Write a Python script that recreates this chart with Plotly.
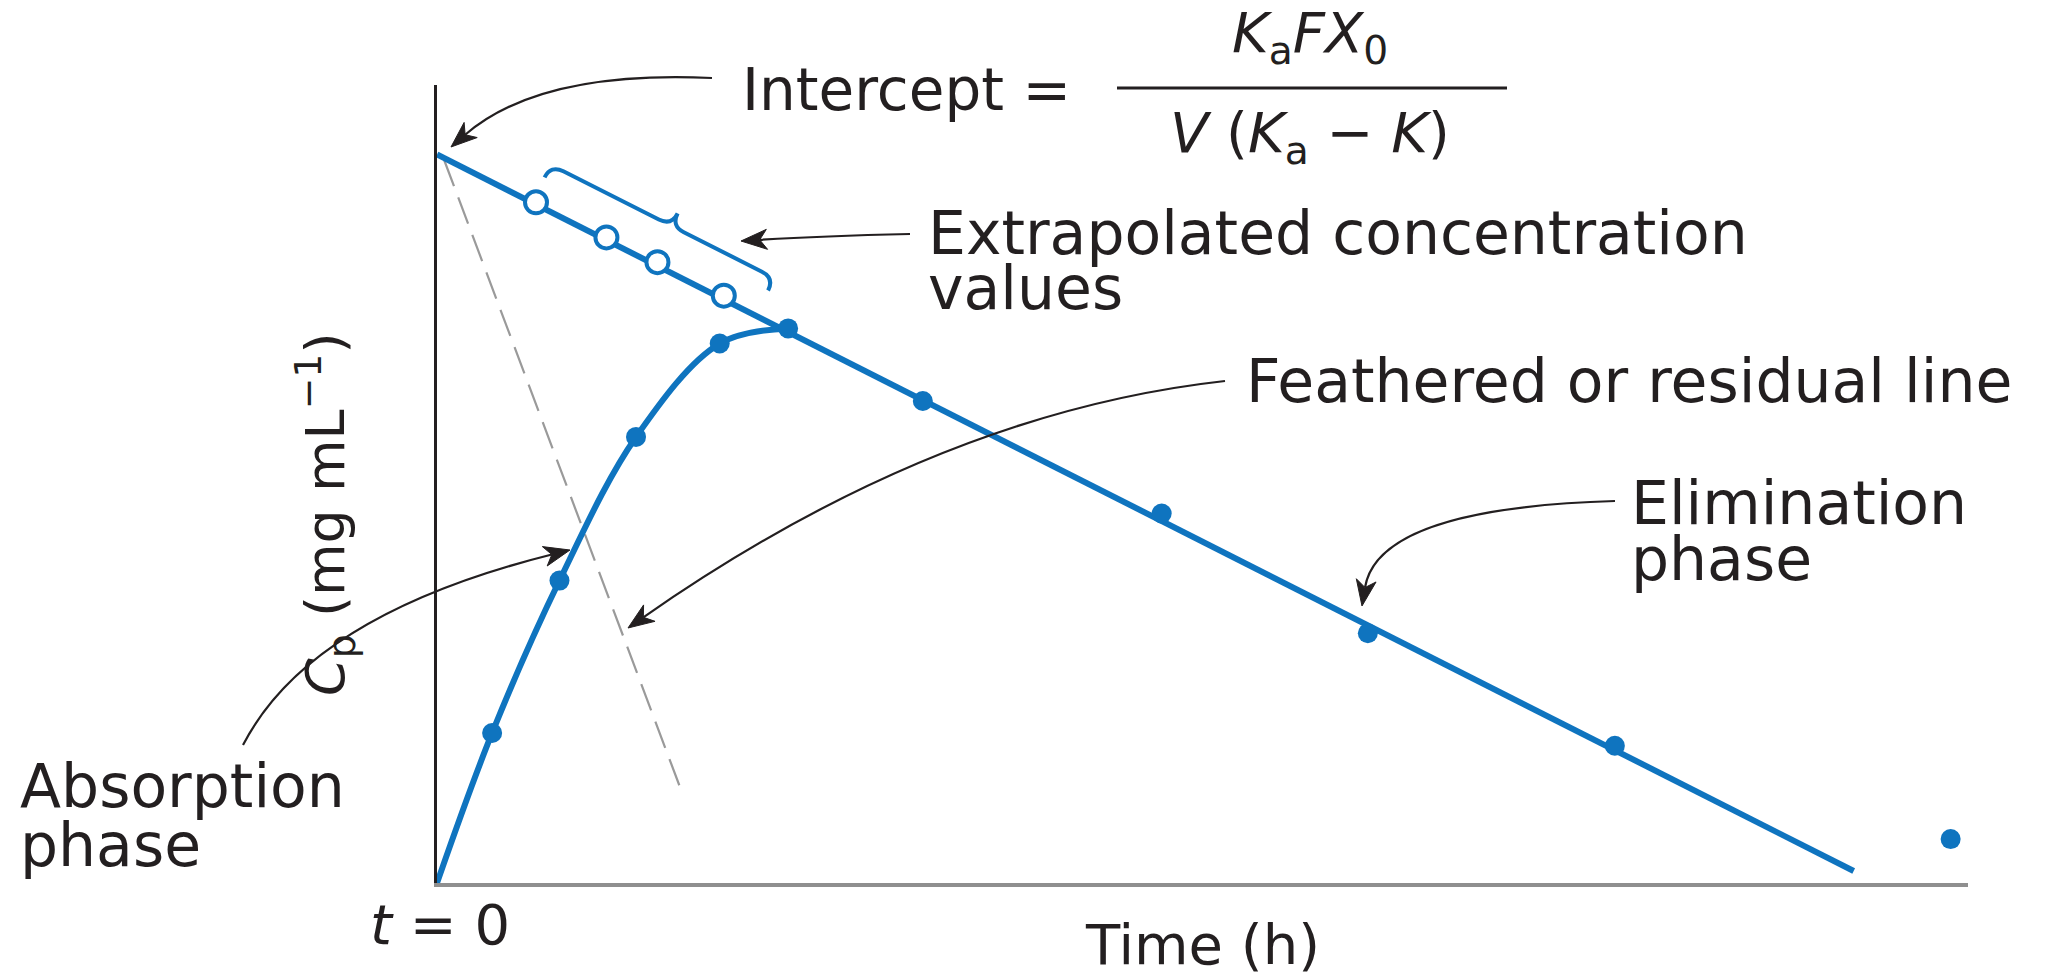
import math
import plotly.graph_objects as go

# ---------------- data (arbitrary units) ----------------
absorb_curve_t = [0.0, 0.54, 1.20, 1.95, 2.77, 3.44]
absorb_curve_c = [0.0, 1.88, 3.79, 5.59, 6.76, 6.95]
absorb_dot_t = [0.54, 1.20, 1.95, 2.77]
absorb_dot_c = [1.88, 3.79, 5.59, 6.76]
elim_dot_t = [3.44, 4.76, 7.10, 9.12, 11.54, 14.83]
elim_dot_c = [6.95, 6.04, 4.63, 3.13, 1.72, 0.55]
extrap_t = [0.97, 1.66, 2.16, 2.81]
extrap_c = [8.53, 8.09, 7.78, 7.36]
elim_line_t = [0.0, 13.88]
elim_line_c = [9.13, 0.15]
resid_line_t = [0.07, 2.39]
resid_line_c = [9.06, 1.17]
brace_t = [0.93, 2.11, 3.12]   # start, tip, end of the brace along the line

X_MAX, Y_MAX = 15.0, 10.0

# ---------------- layout geometry ----------------
W, H = 2068, 976
L, R, T, B = 437, 100, 85, 93
PW, PH = W - L - R, H - T - B
FONT = "DejaVu Sans"
INK = "#231f20"
BLUE = "#0f74bf"
FS = 60


def d2px(t, c):
    return L + t / X_MAX * PW, H - B - c / Y_MAX * PH


def px2p(px, py):
    return (px - L) / PW, (H - B - py) / PH


def pstr(px, py):
    x, y = px2p(px, py)
    return f"{x:.5f},{y:.5f}"


fig = go.Figure()

# residual (feathered) dashed line
fig.add_trace(go.Scatter(x=resid_line_t, y=resid_line_c, mode="lines",
                         line=dict(color="#9a9a9a", width=2.2, dash="28px,12px"),
                         hoverinfo="skip"))
# elimination line
fig.add_trace(go.Scatter(x=elim_line_t, y=elim_line_c, mode="lines",
                         line=dict(color=BLUE, width=6), hoverinfo="skip"))
# absorption curve
fig.add_trace(go.Scatter(x=absorb_curve_t, y=absorb_curve_c, mode="lines",
                         line=dict(color=BLUE, width=6, shape="spline", smoothing=1.0),
                         hoverinfo="skip"))
# extrapolated (open) points
fig.add_trace(go.Scatter(x=extrap_t, y=extrap_c, mode="markers",
                         marker=dict(symbol="circle", size=22, color="white",
                                     line=dict(color=BLUE, width=4)),
                         cliponaxis=False))
# observed points
fig.add_trace(go.Scatter(x=absorb_dot_t + elim_dot_t, y=absorb_dot_c + elim_dot_c,
                         mode="markers", marker=dict(size=20, color=BLUE),
                         cliponaxis=False))

shapes = []
annotations = []

# ---------------- brace parallel to the elimination line ----------------
p0 = d2px(elim_line_t[0], elim_line_c[0])
p1 = d2px(elim_line_t[1], elim_line_c[1])
ll = math.hypot(p1[0] - p0[0], p1[1] - p0[1])
ux, uy = (p1[0] - p0[0]) / ll, (p1[1] - p0[1]) / ll
nx, ny = uy, -ux


def s_of_t(t):
    q = d2px(t, elim_line_c[0] + (elim_line_c[1] - elim_line_c[0]) * t / elim_line_t[1])
    return math.hypot(q[0] - p0[0], q[1] - p0[1])


def bp(s, d):
    return pstr(p0[0] + s * ux + d * nx, p0[1] + s * uy + d * ny)


s0, st, s1 = (s_of_t(v) for v in brace_t)
path = (f"M {bp(s0, 28)} Q {bp(s0, 42)} {bp(s0 + 14, 42)} L {bp(st - 14, 42)} "
        f"Q {bp(st, 42)} {bp(st, 56)} Q {bp(st, 42)} {bp(st + 14, 42)} "
        f"L {bp(s1 - 14, 42)} Q {bp(s1, 42)} {bp(s1, 28)}")
shapes.append(dict(type="path", path=path, xref="paper", yref="paper",
                   line=dict(color=BLUE, width=4)))

# fraction bar
bx0, by0 = px2p(1117, 88)
bx1, _ = px2p(1507, 88)
shapes.append(dict(type="line", xref="paper", yref="paper", x0=bx0, y0=by0, x1=bx1, y1=by0,
                   line=dict(color=INK, width=3)))


# ---------------- curved pointer arrows (path + filled barbed head) ----------------
def curved_arrow(start, ctrl, tip, hlen=26, hw=10):
    dx, dy = tip[0] - ctrl[0], tip[1] - ctrl[1]
    n = math.hypot(dx, dy)
    ex, ey = dx / n, dy / n
    qx, qy = -ey, ex
    neck = (tip[0] - ex * hlen * 0.72, tip[1] - ey * hlen * 0.72)
    shapes.append(dict(type="path", xref="paper", yref="paper",
                       path=f"M {pstr(*start)} Q {pstr(*ctrl)} {pstr(*neck)}",
                       line=dict(color=INK, width=2.2)))
    b1 = (tip[0] - ex * hlen + qx * hw, tip[1] - ey * hlen + qy * hw)
    b2 = (tip[0] - ex * hlen - qx * hw, tip[1] - ey * hlen - qy * hw)
    shapes.append(dict(type="path", xref="paper", yref="paper",
                       path=f"M {pstr(*tip)} L {pstr(*b1)} L {pstr(*neck)} L {pstr(*b2)} Z",
                       fillcolor=INK, line=dict(color=INK, width=1)))


curved_arrow((712, 78), (540, 70), (451, 147))        # intercept
curved_arrow((910, 234), (820, 236), (741, 241))      # extrapolated values
curved_arrow((1225, 381), (936, 413), (628, 628))     # feathered line
curved_arrow((1615, 501), (1378, 508), (1362, 606))   # elimination phase
curved_arrow((243, 745), (310, 615), (570, 550))      # absorption phase


# ---------------- text ----------------
def txt(s, px, py, size=FS, xanchor="left", angle=0):
    x, y = px2p(px, py)
    annotations.append(dict(text=s, x=x, y=y, xref="paper", yref="paper",
                            xanchor=xanchor, yanchor="middle", showarrow=False,
                            textangle=angle, font=dict(family=FONT, size=size, color=INK)))


txt("Intercept =", 740, 90, size=58)
txt("<i>K</i><sub>a</sub><i>FX</i><sub>0</sub>", 1310, 36, size=56, xanchor="center")
txt("<i>V</i> (<i>K</i><sub>a</sub> − <i>K</i>)", 1310, 136, size=56, xanchor="center")
txt("Extrapolated concentration", 926, 233)
txt("values", 926, 288)
txt("Feathered or residual line", 1244, 381)
txt("Elimination", 1629, 503)
txt("phase", 1629, 559)
txt("Absorption", 18, 786)
txt("phase", 18, 845)
txt("<i>t</i> = 0", 440, 924, size=56, xanchor="center")
txt("Time (h)", 1202, 944, size=56, xanchor="center")
txt("<i>C</i><sub>p</sub> (mg mL<sup>−1</sup>)", 325, 515, size=54, xanchor="center", angle=-90)

fig.update_layout(
    width=W, height=H,
    margin=dict(l=L, r=R, t=T, b=B, pad=0),
    paper_bgcolor="white", plot_bgcolor="white",
    showlegend=False,
    shapes=shapes, annotations=annotations,
    xaxis=dict(range=[0, X_MAX], showgrid=False, zeroline=False, showticklabels=False,
               ticks="", showline=True, linecolor="#8f8f8f", linewidth=4),
    yaxis=dict(range=[0, Y_MAX], showgrid=False, zeroline=False, showticklabels=False,
               ticks="", showline=True, linecolor=INK, linewidth=3),
)

fig.write_html("out.html")
